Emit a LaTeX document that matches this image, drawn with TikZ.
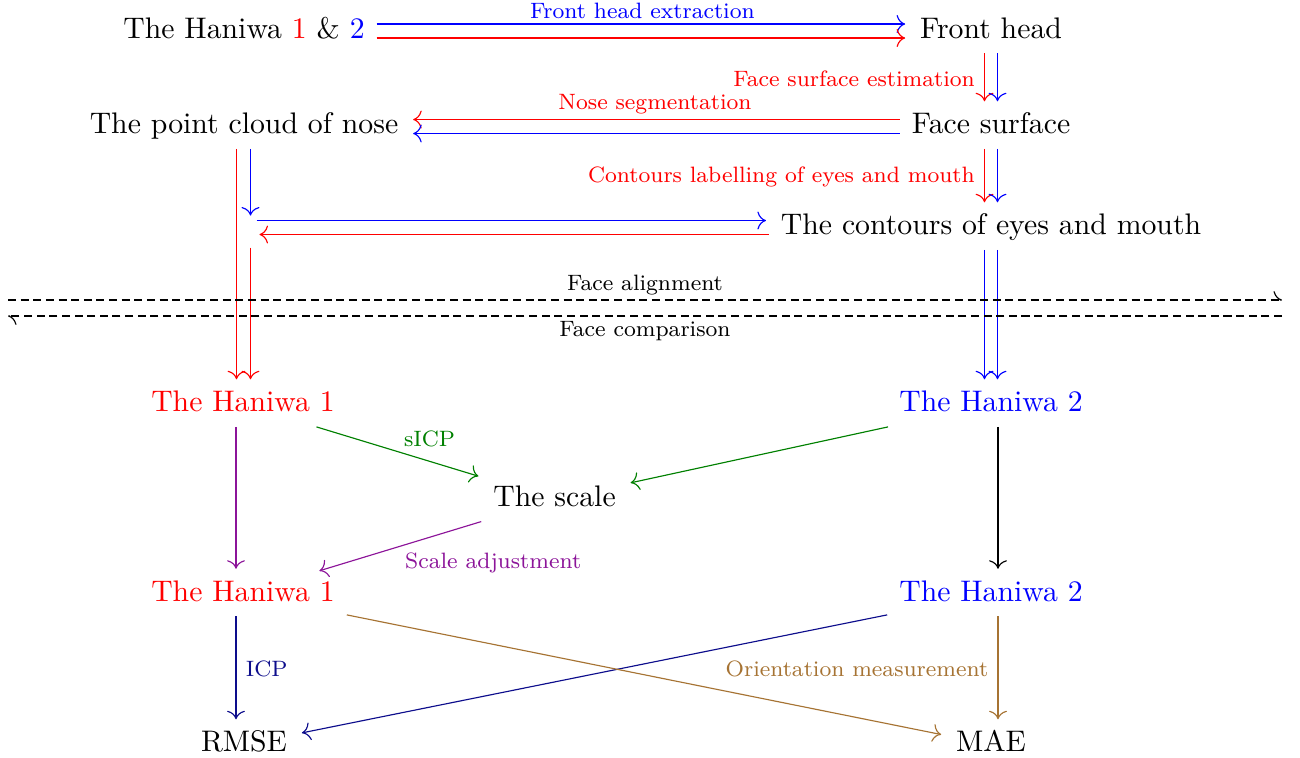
\documentclass[tikz,border=0pt]{standalone}
\usetikzlibrary{arrows.meta,calc}
\definecolor{cgreen}{rgb}{0,0.5,0}
\definecolor{cnavy}{rgb}{0.05,0.05,0.55}
\definecolor{cbrown}{rgb}{0.65,0.45,0.2}
\definecolor{cviolet}{rgb}{0.55,0.08,0.6}
\begin{document}
\begin{tikzpicture}[x=0.3485pt,y=-0.3485pt,
  box/.style={text height=7.2pt,text depth=2pt,inner xsep=4pt,inner ysep=3pt,font=\fontsize{10.37pt}{12pt}\selectfont},
  arr/.style={-{Computer Modern Rightarrow[scale=1.2]},shorten >=1pt},
  lab/.style={font=\fontsize{7.75pt}{9pt}\selectfont,inner sep=1.6pt},
  vlab/.style={font=\fontsize{7.75pt}{9pt}\selectfont,inner ysep=1.6pt,inner xsep=3.2pt},
  dashline/.style={dash pattern=on 2.8pt off 1.6pt,-{Computer Modern Rightarrow[harpoon,scale=1.2]}}]
\useasboundingbox (0,0) rectangle (1300,757);
% nodes
\node[box] (h12) at (244,31) {The Haniwa \textcolor{red}{1} \& \textcolor{blue}{2}};
\node[box] (fh) at (991,31) {Front head};
\node[box] (pc) at (244,126.5) {The point cloud of nose};
\node[box] (fs) at (991,126.5) {Face surface};
\node[inner sep=0,minimum width=8.4pt,minimum height=9.76pt] (e) at (244,233) {};
\node[box] (ct) at (991,227.5) {The contours of eyes and mouth};
\node[box,text=red] (h1) at (243,404.5) {The Haniwa 1};
\node[box,text=blue] (h2) at (991,404.5) {The Haniwa 2};
\node[box] (sc) at (554.5,499.3) {The scale};
\node[box,text=red] (h1b) at (243,594) {The Haniwa 1};
\node[box,text=blue] (h2b) at (991,594) {The Haniwa 2};
\node[box] (rm) at (244,744.5) {RMSE};
\node[box] (mae) at (991,744.5) {MAE};
\coordinate (dL) at (8,308);
\coordinate (dR) at (1282,308);
% row 1
\draw[arr,blue] ($(h12.east)+(0,-7)$) -- node[lab,above]{Front head extraction} ($(fh.west)+(0,-7)$);
\draw[arr,red] ($(h12.east)+(0,7)$) -- ($(fh.west)+(0,7)$);
% fh -> fs
\draw[arr,red] ($(fh.south)+(-6.5,0)$) -- node[vlab,left]{Face surface estimation} ($(fh.south |- fs.north)+(-6.5,0)$);
\draw[arr,blue] ($(fh.south)+(6.5,0)$) -- ($(fh.south |- fs.north)+(6.5,0)$);
% fs -> pc
\draw[arr,red] ($(fs.west)+(0,-7)$) -- node[lab,above]{Nose segmentation} ($(pc.east)+(0,-7)$);
\draw[arr,blue] ($(fs.west)+(0,7)$) -- ($(pc.east)+(0,7)$);
% fs -> ct
\draw[arr,red] ($(fs.south)+(-6.5,0)$) -- node[vlab,left]{Contours labelling of eyes and mouth} ($(fs.south |- ct.north)+(-6.5,0)$);
\draw[arr,blue] ($(fs.south)+(6.5,0)$) -- ($(fs.south |- ct.north)+(6.5,0)$);
% pc -> h1, pc -> e
\draw[arr,red] ($(pc.south)+(-7.5,0)$) -- ($(pc.south |- h1.north)+(-7.5,0)$);
\draw[arr,blue] ($(pc.south)+(6.5,0)$) -- ($(pc.south |- e.north)+(6.5,0)$);
% e <-> ct
\draw[arr,blue] ($(e.east |- ct.west)+(0,-7)$) -- ($(ct.west)+(0,-7)$);
\draw[arr,red] ($(ct.west)+(0,7)$) -- ($(e.east |- ct.west)+(0,7)$);
\draw[arr,red] ($(e.south)+(6.5,0)$) -- ($(e.south |- h1.north)+(6.5,0)$);
% ct -> h2
\draw[arr,blue] ($(ct.south)+(-6.5,0)$) -- ($(ct.south |- h2.north)+(-6.5,0)$);
\draw[arr,blue] ($(ct.south)+(6.5,0)$) -- ($(ct.south |- h2.north)+(6.5,0)$);
% dashed separators
\draw[dashline] ($(dL)+(0,-8)$) -- node[lab,above]{Face alignment} ($(dR)+(0,-8)$);
\draw[dashline] ($(dR)+(0,8)$) -- node[lab,below]{Face comparison} ($(dL)+(0,8)$);
% comparison part
\draw[arr,cgreen] (h1) -- node[lab,above right]{sICP} (sc);
\draw[arr,cgreen] (h2) -- (sc);
\draw[arr,cviolet] (sc) -- node[lab,below right,inner sep=2pt]{Scale adjustment} (h1b);
\draw[arr,cviolet] ($(h1.south)+(-7,0)$) -- ($(h1.south |- h1b.north)+(-7,0)$);
\draw[arr] ($(h2.south)+(7,0)$) -- ($(h2.south |- h2b.north)+(7,0)$);
\draw[arr,cnavy] ($(h1b.south)+(-7,0)$) -- node[vlab,right]{ICP} ($(h1b.south |- rm.north)+(-7,0)$);
\draw[arr,cnavy] (h2b) -- (rm);
\draw[arr,cbrown] (h1b) -- (mae);
\draw[arr,cbrown] ($(h2b.south)+(7,0)$) -- node[vlab,left]{Orientation measurement} ($(h2b.south |- mae.north)+(7,0)$);
\end{tikzpicture}
\end{document}
